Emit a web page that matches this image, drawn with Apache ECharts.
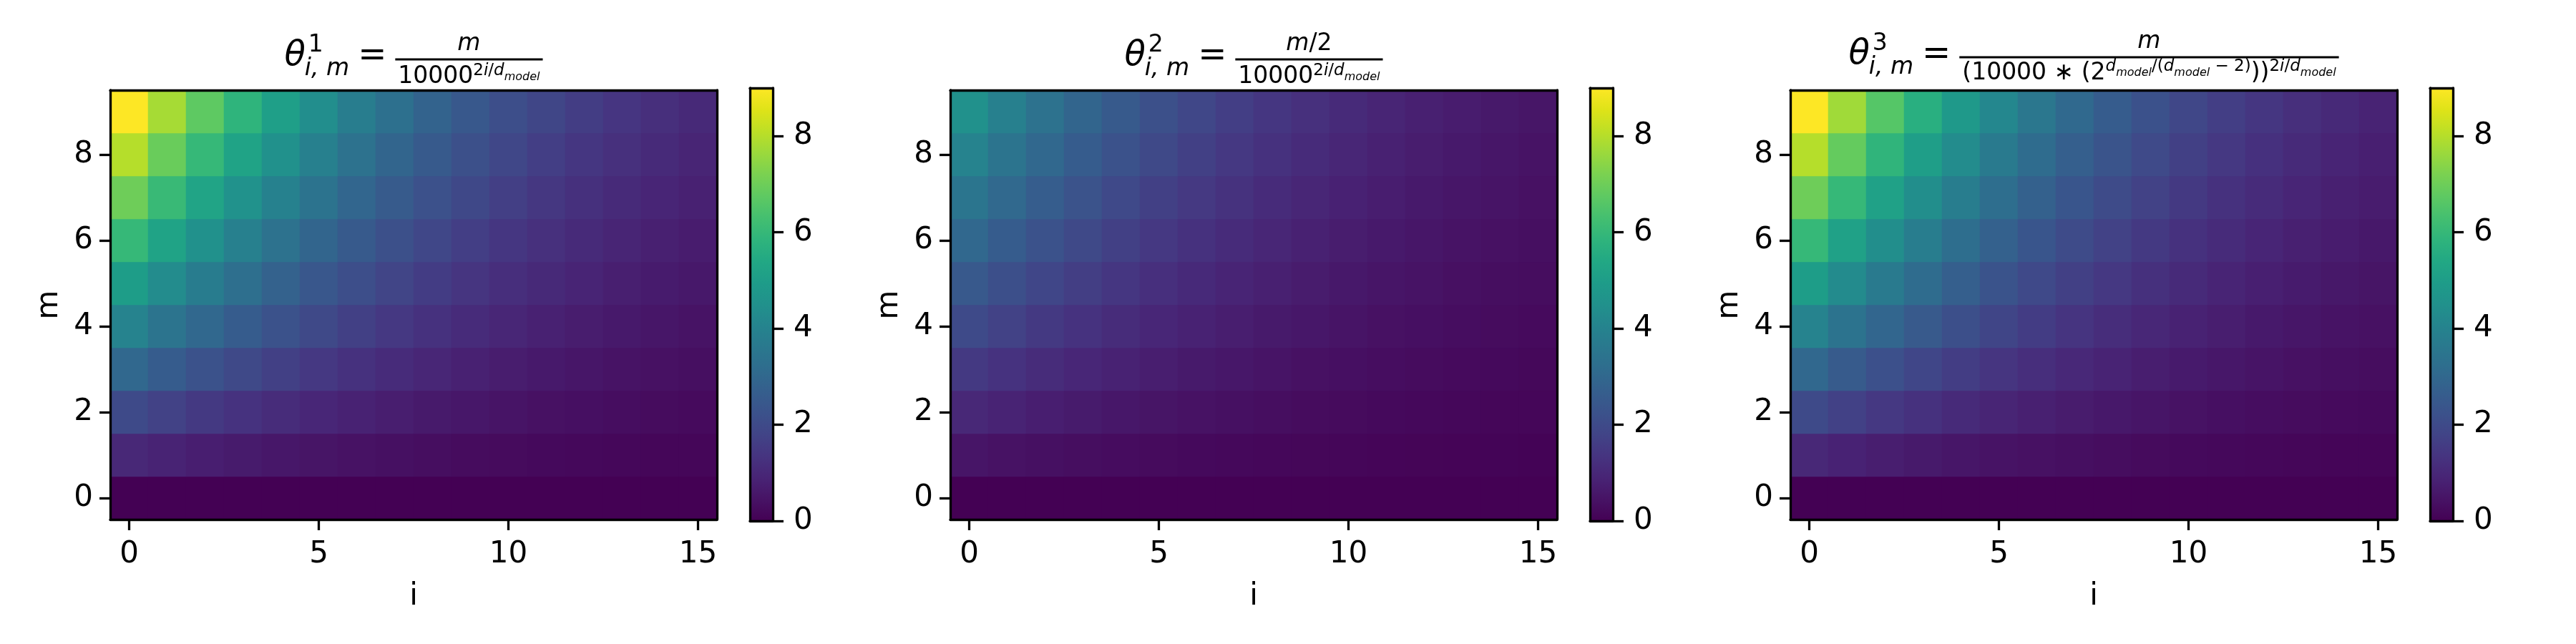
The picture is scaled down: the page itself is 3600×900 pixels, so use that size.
<!DOCTYPE html>
<html><head><meta charset="utf-8">
<script src="https://cdn.jsdelivr.net/npm/echarts@6/dist/echarts.min.js"></script>
<style>html,body{margin:0;padding:0;background:#fff}#c{width:3600px;height:900px}</style>
</head><body><div id="c"></div>
<script>
// ---------------- data ----------------
const I_LABELS = ['0','1','2','3','4','5','6','7','8','9','10','11','12','13','14','15'];
const M_LABELS = ['0','1','2','3','4','5','6','7','8','9'];
const X_TICK_IDX = [0, 5, 10, 15];
const Y_TICK_IDX = [0, 2, 4, 6, 8];
const CBAR_TICKS = [0, 2, 4, 6, 8];
const V_MIN = 0, V_MAX = 9;

// rows: m = 0..9, columns: i = 0..15
const THETA1 = [
  [0,0,0,0,0,0,0,0,0,0,0,0,0,0,0,0],
  [1,0.87,0.75,0.65,0.56,0.49,0.42,0.37,0.32,0.27,0.24,0.21,0.18,0.15,0.13,0.12],
  [2,1.73,1.50,1.30,1.12,0.97,0.84,0.73,0.63,0.55,0.47,0.41,0.36,0.31,0.27,0.23],
  [3,2.60,2.25,1.95,1.69,1.46,1.27,1.10,0.95,0.82,0.71,0.62,0.53,0.46,0.40,0.35],
  [4,3.46,3.00,2.60,2.25,1.95,1.69,1.46,1.26,1.10,0.95,0.82,0.71,0.62,0.53,0.46],
  [5,4.33,3.75,3.25,2.81,2.43,2.11,1.83,1.58,1.37,1.19,1.03,0.89,0.77,0.67,0.58],
  [6,5.20,4.50,3.90,3.37,2.92,2.53,2.19,1.90,1.64,1.42,1.23,1.07,0.92,0.80,0.69],
  [7,6.06,5.25,4.55,3.94,3.41,2.95,2.56,2.21,1.92,1.66,1.44,1.24,1.08,0.93,0.81],
  [8,6.93,6.00,5.20,4.50,3.90,3.37,2.92,2.53,2.19,1.90,1.64,1.42,1.23,1.07,0.92],
  [9,7.79,6.75,5.84,5.06,4.38,3.80,3.29,2.85,2.46,2.13,1.85,1.60,1.39,1.20,1.04]
];
const THETA2 = [
  [0,0,0,0,0,0,0,0,0,0,0,0,0,0,0,0],
  [0.5,0.43,0.37,0.32,0.28,0.24,0.21,0.18,0.16,0.14,0.12,0.10,0.09,0.08,0.07,0.06],
  [1,0.87,0.75,0.65,0.56,0.49,0.42,0.37,0.32,0.27,0.24,0.21,0.18,0.15,0.13,0.12],
  [1.5,1.30,1.12,0.97,0.84,0.73,0.63,0.55,0.47,0.41,0.36,0.31,0.27,0.23,0.20,0.17],
  [2,1.73,1.50,1.30,1.12,0.97,0.84,0.73,0.63,0.55,0.47,0.41,0.36,0.31,0.27,0.23],
  [2.5,2.16,1.87,1.62,1.41,1.22,1.05,0.91,0.79,0.68,0.59,0.51,0.44,0.38,0.33,0.29],
  [3,2.60,2.25,1.95,1.69,1.46,1.27,1.10,0.95,0.82,0.71,0.62,0.53,0.46,0.40,0.35],
  [3.5,3.03,2.62,2.27,1.97,1.70,1.48,1.28,1.11,0.96,0.83,0.72,0.62,0.54,0.47,0.40],
  [4,3.46,3.00,2.60,2.25,1.95,1.69,1.46,1.26,1.10,0.95,0.82,0.71,0.62,0.53,0.46],
  [4.5,3.90,3.37,2.92,2.53,2.19,1.90,1.64,1.42,1.23,1.07,0.92,0.80,0.69,0.60,0.52]
];
const THETA3 = [
  [0,0,0,0,0,0,0,0,0,0,0,0,0,0,0,0],
  [1,0.86,0.73,0.63,0.54,0.46,0.39,0.34,0.29,0.25,0.21,0.18,0.16,0.13,0.11,0.10],
  [2,1.71,1.47,1.26,1.08,0.92,0.79,0.68,0.58,0.50,0.42,0.36,0.31,0.27,0.23,0.20],
  [3,2.57,2.20,1.88,1.61,1.38,1.18,1.01,0.87,0.74,0.64,0.55,0.47,0.40,0.34,0.29],
  [4,3.43,2.93,2.51,2.15,1.84,1.58,1.35,1.16,0.99,0.85,0.73,0.62,0.53,0.46,0.39],
  [5,4.28,3.67,3.14,2.69,2.30,1.97,1.69,1.45,1.24,1.06,0.91,0.78,0.67,0.57,0.49],
  [6,5.14,4.40,3.77,3.23,2.77,2.37,2.03,1.74,1.49,1.27,1.09,0.93,0.80,0.69,0.59],
  [7,6.00,5.14,4.40,3.77,3.23,2.76,2.37,2.03,1.74,1.49,1.27,1.09,0.93,0.80,0.69],
  [8,6.85,5.87,5.03,4.31,3.69,3.16,2.70,2.32,1.98,1.70,1.46,1.25,1.07,0.91,0.78],
  [9,7.71,6.60,5.65,4.84,4.15,3.55,3.04,2.61,2.23,1.91,1.64,1.40,1.20,1.03,0.88]
];
const PANELS = [THETA1, THETA2, THETA3];

// ---------------- style / layout ----------------
const VIRIDIS = ['#440154','#471365','#482475','#463480','#414487','#3b528b','#355f8d','#2f6c8e',
  '#2a788e','#25848e','#21918c','#1e9c89','#22a884','#2fb47c','#44bf70','#5ec962','#7ad151',
  '#9bd93c','#bddf26','#dfe318','#fde725'];
const FONT = 'DejaVu Sans';
const PLOT_LEFT = [154, 1328, 2502];
const PLOT_TOP = 126, PLOT_W = 848, PLOT_H = 600;
const CB_LEFT_OFF = 894, CB_W = 32, CB_TOP = 123, CB_H = 605;
const LW = 3.3;

const lineStyle = {color:'#000', width:LW};
const labelStyle = {fontSize:42, fontFamily:FONT, color:'#000'};

const grids = [], xAxes = [], yAxes = [], heatSeries = [], barSeries = [];
PANELS.forEach((vals, p) => {
  const L = PLOT_LEFT[p];
  grids.push({left:L, top:PLOT_TOP, width:PLOT_W, height:PLOT_H, containLabel:false});
  grids.push({left:L + CB_LEFT_OFF, top:CB_TOP, width:CB_W, height:CB_H, containLabel:false});
  const gH = 2*p, gC = 2*p + 1;
  const frame = {axisLine:{show:true, onZero:false, lineStyle}, axisTick:{show:false}, axisLabel:{show:false}, splitLine:{show:false}, z:10};
  xAxes.push({type:'category', gridIndex:gH, data:I_LABELS, position:'bottom', z:10,
    axisLine:{show:true, onZero:false, lineStyle},
    axisTick:{show:true, alignWithLabel:true, length:15, lineStyle, interval:(i)=>X_TICK_IDX.includes(i)},
    axisLabel:Object.assign({margin:28, interval:(i)=>X_TICK_IDX.includes(i)}, labelStyle),
    splitLine:{show:false},
    name:'i', nameLocation:'middle', nameGap:87, nameTextStyle:labelStyle});
  xAxes.push(Object.assign({type:'category', gridIndex:gH, data:I_LABELS, position:'top'}, frame));
  xAxes.push(Object.assign({type:'category', gridIndex:gC, data:[''], position:'bottom'}, frame));
  xAxes.push(Object.assign({type:'category', gridIndex:gC, data:[''], position:'top'}, frame));
  yAxes.push({type:'category', gridIndex:gH, data:M_LABELS, position:'left', z:10,
    axisLine:{show:true, onZero:false, lineStyle},
    axisTick:{show:true, alignWithLabel:true, length:15, lineStyle, interval:(i)=>Y_TICK_IDX.includes(i)},
    axisLabel:Object.assign({margin:24, interval:(i)=>Y_TICK_IDX.includes(i)}, labelStyle),
    splitLine:{show:false},
    name:'m', nameLocation:'middle', nameGap:64, nameTextStyle:labelStyle});
  yAxes.push(Object.assign({type:'category', gridIndex:gH, data:M_LABELS, position:'right'}, frame));
  yAxes.push({type:'value', gridIndex:gC, min:V_MIN, max:V_MAX, position:'right', z:10,
    axisLine:{show:true, onZero:false, lineStyle},
    axisTick:{show:true, length:15, lineStyle, customValues:CBAR_TICKS},
    axisLabel:Object.assign({margin:29, customValues:CBAR_TICKS}, labelStyle),
    splitLine:{show:false}});
  yAxes.push(Object.assign({type:'value', gridIndex:gC, min:V_MIN, max:V_MAX, position:'left'}, frame));

  const data = [];
  vals.forEach((row, m) => row.forEach((v, i) => data.push([i, m, v])));
  heatSeries.push({type:'heatmap', xAxisIndex:4*p, yAxisIndex:4*p, data, silent:true,
    itemStyle:{borderWidth:0}, emphasis:{disabled:true}, progressive:0});
  const stops = VIRIDIS.map((c, k) => ({offset:k/(VIRIDIS.length-1), color:c}));
  barSeries.push({type:'bar', xAxisIndex:4*p+2, yAxisIndex:4*p+2, data:[V_MAX], barWidth:'100%', silent:true,
    itemStyle:{color:new echarts.graphic.LinearGradient(0, 1, 0, 0, stops)}});
});

// ---------------- math titles ----------------
const mctx = document.createElement('canvas').getContext('2d');
function fontStr(s, it){ return (it ? 'italic ' : '') + s + 'px "' + FONT + '"'; }
function tw(t, s, it){ mctx.font = fontStr(s, it); return mctx.measureText(t).width; }
function seg(t, s, it, dy){ return {t, s, it:!!it, dy:dy||0}; }
function textEl(t, x, base, s, it){
  return {type:'text', x:x, y:base - 0.35*s, z:100, silent:true,
    style:{text:t, fill:'#000', font:fontStr(s, it), textAlign:'left', verticalAlign:'middle', textVerticalAlign:'middle'}};
}
function segWidth(list){ return list.reduce((a, g) => a + tw(g.t, g.s, g.it), 0); }
function placeSegs(els, list, x, base){
  list.forEach(g => { els.push(textEl(g.t, x, base + g.dy, g.s, g.it)); x += tw(g.t, g.s, g.it); });
}
const FS = 33, SP = 23, SS2 = 16;
const SUPS = ['1','2','3'];
const NUMS = [
  [seg('m',FS,1)],
  [seg('m',FS,1), seg('/2',FS)],
  [seg('m',FS,1)]
];
const DENOM_STD = [seg('10000',FS), seg('2',SP,0,-12), seg('i',SP,1,-12), seg('/',SP,0,-12), seg('d',SP,1,-12), seg('model',SS2,1,-6)];
const DENS = [
  DENOM_STD,
  DENOM_STD,
  [seg('(10000',FS), seg(' \u2217 ',FS), seg('(2',FS), seg('d',SP,1,-13), seg('model',SS2,1,-7), seg('/(',SP,0,-13),
   seg('d',SP,1,-13), seg('model',SS2,1,-7), seg(' \u2212 2)',SP,0,-13), seg('))',FS),
   seg('2',SP,0,-13), seg('i',SP,1,-13), seg('/',SP,0,-13), seg('d',SP,1,-13), seg('model',SS2,1,-7)]
];
const TITLE_Y = [
  {main:95, bar:83, num:73, den:119},
  {main:95, bar:83, num:73, den:119},
  {main:93, bar:80, num:70, den:114}
];
const graphics = [];
PANELS.forEach((_, p) => {
  const cx = PLOT_LEFT[p] + PLOT_W/2;
  const Y = TITLE_Y[p];
  const MS = 48, SS = 33;
  const wTheta = tw('\u03b8', MS, true);
  const wSup = tw(SUPS[p], SS, false), wSub = tw('i, m', SS, true);
  const wLead = wTheta + Math.max(wSup + 4, wSub - 1);
  const gap = 12, wEq = tw('=', MS, false);
  const wNum = segWidth(NUMS[p]), wDen = segWidth(DENS[p]);
  const wFrac = Math.max(wNum, wDen) + 8;
  const total = wLead + gap + wEq + gap + wFrac;
  let x = cx - total/2;
  graphics.push(textEl('\u03b8', x, Y.main, MS, true));
  graphics.push(textEl(SUPS[p], x + wTheta + 4, Y.main - 20, SS, false));
  graphics.push(textEl('i, m', x + wTheta - 1, Y.main + 13, SS, true));
  x += wLead + gap;
  graphics.push(textEl('=', x, Y.main, MS, false));
  x += wEq + gap;
  graphics.push({type:'rect', z:100, silent:true, shape:{x:x, y:Y.bar - 1.5, width:wFrac, height:3}, style:{fill:'#000'}});
  placeSegs(graphics, NUMS[p], x + (wFrac - wNum)/2, Y.num);
  placeSegs(graphics, DENS[p], x + (wFrac - wDen)/2, Y.den);
});

const chart = echarts.init(document.getElementById('c'), null, {renderer:'canvas'});
chart.setOption({
  animation:false,
  backgroundColor:'#fff',
  grid:grids, xAxis:xAxes, yAxis:yAxes,
  visualMap:[{type:'continuous', min:V_MIN, max:V_MAX, show:false, seriesIndex:[0,1,2], inRange:{color:VIRIDIS}}],
  series:heatSeries.concat(barSeries),
  graphic:graphics
});
</script></body></html>
